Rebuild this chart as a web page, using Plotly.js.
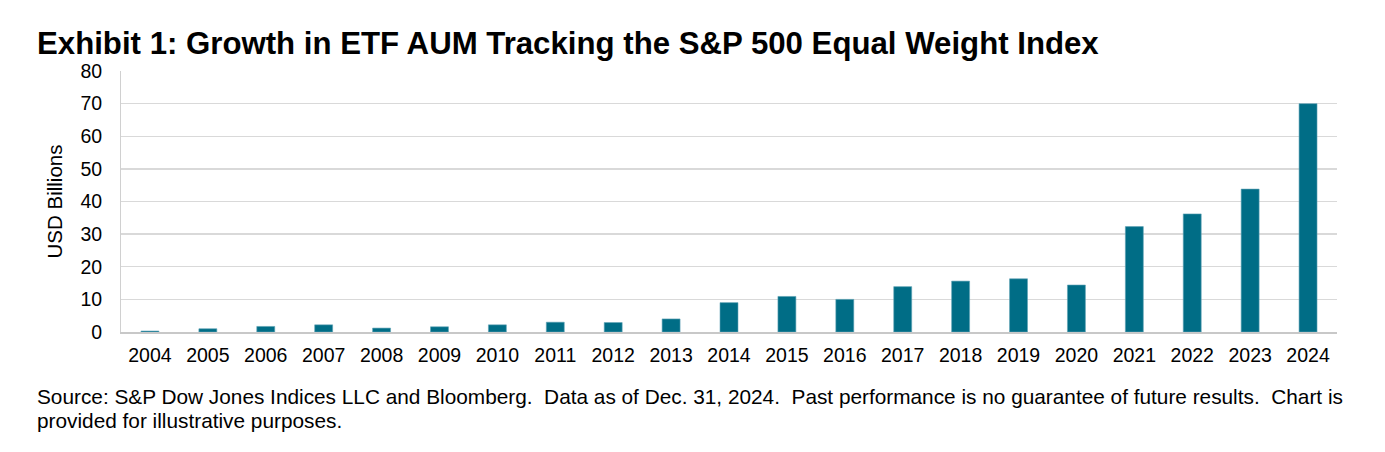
<!DOCTYPE html>
<html>
<head>
<meta charset="utf-8">
<script src="https://cdn.plot.ly/plotly-3.0.1.min.js"></script>
<style>html,body{margin:0;padding:0;background:#fff;}#chart{width:1385px;height:452px;}</style>
</head>
<body>
<div id="chart"></div>
<script>
const years = ["2004","2005","2006","2007","2008","2009","2010","2011","2012","2013","2014","2015","2016","2017","2018","2019","2020","2021","2022","2023","2024"];
const aum = [0.3,1.0,1.7,2.2,1.2,1.6,2.2,3.0,2.9,4.0,9.0,10.9,10.0,13.9,15.6,16.3,14.4,32.3,36.2,43.8,70.0];
const yTicks = [0,10,20,30,40,50,60,70,80];
const titleText = "Exhibit 1: Growth in ETF AUM Tracking the S&P 500 Equal Weight Index";
const sourceLines = [
  "Source: S&P Dow Jones Indices LLC and Bloomberg.\u00A0 Data as of Dec. 31, 2024.\u00A0 Past performance is no guarantee of future results.\u00A0 Chart is",
  "provided for illustrative purposes."
];
const font = "Liberation Sans, Arial, sans-serif";

const trace = {
  type: "bar",
  x: years,
  y: aum,
  marker: {color: "#006D86", line: {color: "#5FA3B5", width: 0.6}},
  hoverinfo: "x+y"
};

const layout = {
  width: 1385, height: 452,
  margin: {l: 121, r: 48, t: 71, b: 120},
  paper_bgcolor: "#fff", plot_bgcolor: "#fff",
  font: {family: font, color: "#000", size: 19.5},
  showlegend: false,
  bargap: 0.69,
  xaxis: {
    type: "category",
    showgrid: false,
    showline: true, linecolor: "#c8c8c8", linewidth: 1.5,
    ticks: "", tickfont: {size: 19.5, family: font},
    ticklabelstandoff: 5
  },
  yaxis: {
    range: [0, 80],
    tickvals: yTicks,
    showgrid: true, gridcolor: "#d9d9d9", gridwidth: 1.3,
    showline: true, linecolor: "#d0d0d0", linewidth: 1,
    zeroline: false,
    ticks: "", tickfont: {size: 19.5, family: font},
    ticklabelstandoff: 14,
    title: {text: "USD Billions", font: {size: 20.5, family: font}, standoff: 12}
  },
  annotations: [
    {text: "<b>" + titleText.replace("&", "&amp;") + "</b>", xref: "paper", yref: "paper", x: -((121-35)/1216), y: 1 + (71-43)/261,
     xanchor: "left", yanchor: "middle", showarrow: false, font: {size: 31.2, family: font, color: "#000"}},
    {text: sourceLines[0].replace("&", "&amp;"), xref: "paper", yref: "paper", x: -((121-35)/1216), y: -((396-332)/261),
     xanchor: "left", yanchor: "middle", showarrow: false, font: {size: 20.8, family: font, color: "#000"}},
    {text: sourceLines[1], xref: "paper", yref: "paper", x: -((121-35)/1216), y: -((420-332)/261),
     xanchor: "left", yanchor: "middle", showarrow: false, font: {size: 20.8, family: font, color: "#000"}}
  ]
};

Plotly.newPlot("chart", [trace], layout, {displayModeBar: false, staticPlot: true});
</script>
</body>
</html>
